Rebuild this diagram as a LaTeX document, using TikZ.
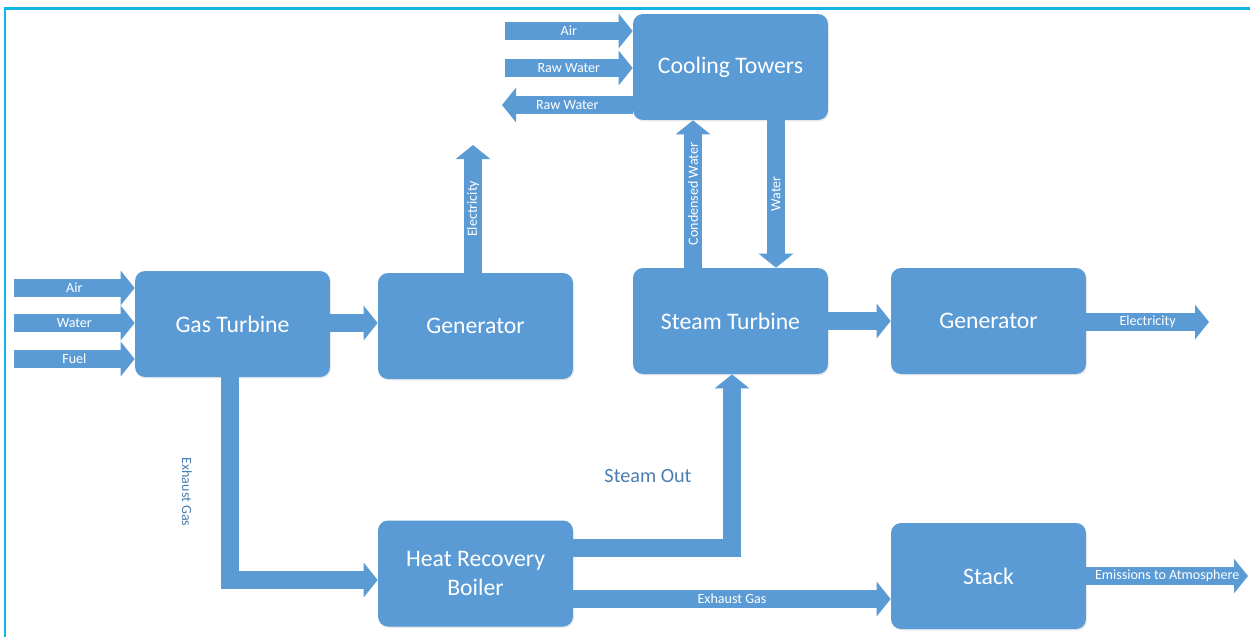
\documentclass[tikz,border=0pt]{standalone}
\usepackage{fontspec}
\setmainfont{Carlito}
\usetikzlibrary{arrows.meta}
\usetikzlibrary{shadows}
\definecolor{boxblue}{HTML}{5B9BD5}
\definecolor{framecyan}{HTML}{12B4E4}
\definecolor{labelblue}{HTML}{4A7EB0}
\tikzset{
	block/.style={fill=boxblue, rounded corners=0.2cm, minimum width=3.9cm, minimum height=2.12cm,
		text=white, align=center, font=\fontsize{13.5}{16}\selectfont,
		drop shadow={shadow xshift=0.6pt, shadow yshift=-0.8pt, opacity=0.18}},
	flow/.style={draw=boxblue, line width=0.36cm, -{Triangle[width=0.68cm,length=0.28cm]}},
	flowlabel/.style={text=white, inner sep=0pt, font=\fontsize{8}{9}\selectfont},
	sidelabel/.style={text=labelblue, inner sep=0pt}
}

\begin{document}
\begin{tikzpicture}[x=0.02cm, y=-0.02cm]
		\useasboundingbox (0,0) rectangle (1250,637);
		\draw[framecyan, line width=0.06cm] (5,637) |- (1250,8);
		\node[block] (Gas Turbine) at (232.5,324) {Gas Turbine};
		\node[block] (Generator A) at (475.5,326) {Generator};
		\node[block] (Cooling Towers) at (730.5,67) {Cooling Towers};
		\node[block] (Steam Turbine) at (730.5,321) {Steam Turbine};
		\node[block] (Generator B) at (988.5,321) {Generator};
		\node[block] (Boiler) at (475.5,573.5) {Heat Recovery\\Boiler};
		\node[block] (Stack) at (988.5,576) {Stack};
		\foreach \y/\name in {288/Air, 323/Water, 359/Fuel}{
				\coordinate (\name in) at (14,\y);
				\draw[flow] (\name in) -- (\name in -| Gas Turbine.west) node[midway, flowlabel] {\name};
			};
		\coordinate (Tower air) at (505,31);
		\coordinate (Tower water) at (505,68);
		\coordinate (Tower out) at (502,105);
		\draw[flow] (Tower air) -- (Tower air -| Cooling Towers.west) node[midway, flowlabel] {Air};
		\draw[flow] (Tower water) -- (Tower water -| Cooling Towers.west) node[midway, flowlabel] {Raw Water};
		\draw[flow] (Tower out -| Cooling Towers.west) -- (Tower out) node[midway, flowlabel] {Raw Water};
		\draw[flow] (Gas Turbine.east |- 0,323) -- (Generator A.west |- 0,323);
		\coordinate (Power A) at (473,145);
		\draw[flow] (Power A |- Generator A.north) -- (Power A) node[midway, flowlabel, rotate=90] {Electricity};
		\coordinate (Condensed) at (693,0);
		\coordinate (Cold) at (776,0);
		\draw[flow] (Condensed |- Steam Turbine.north) -- (Condensed |- Cooling Towers.south) node[midway, flowlabel, rotate=90] {Condensed Water};
		\draw[flow] (Cold |- Cooling Towers.south) -- (Cold |- Steam Turbine.north) node[midway, flowlabel, rotate=90] {Water};
		\draw[flow] (Steam Turbine.east) -- (Generator B.west);
		\coordinate (Power B) at (1209,322);
		\draw[flow] (Generator B.east |- Power B) -- (Power B) node[midway, flowlabel] {Electricity};
		\coordinate (Exhaust) at (230,580);
		\draw[flow] (Exhaust |- Gas Turbine.south) |- (Exhaust -| Boiler.west);
		\node[sidelabel, rotate=-90, font=\fontsize{8}{9}\selectfont] (Exhaust label) at (187,492) {Exhaust Gas};
		\coordinate (Steam) at (732,548);
		\draw[flow] (Steam -| Boiler.east) -| (Steam |- Steam Turbine.south);
		\node[sidelabel, font=\fontsize{11.5}{13}\selectfont] (Steam label) at (648,476) {Steam Out};
		\coordinate (Flue) at (0,599);
		\draw[flow] (Flue -| Boiler.east) -- (Flue -| Stack.west) node[midway, flowlabel] {Exhaust Gas};
		\coordinate (Emission) at (1248,576);
		\draw[flow] (Stack.east |- Emission) -- (Emission) node[midway, flowlabel] {Emissions to Atmosphere};
	\end{tikzpicture}
\end{document}
